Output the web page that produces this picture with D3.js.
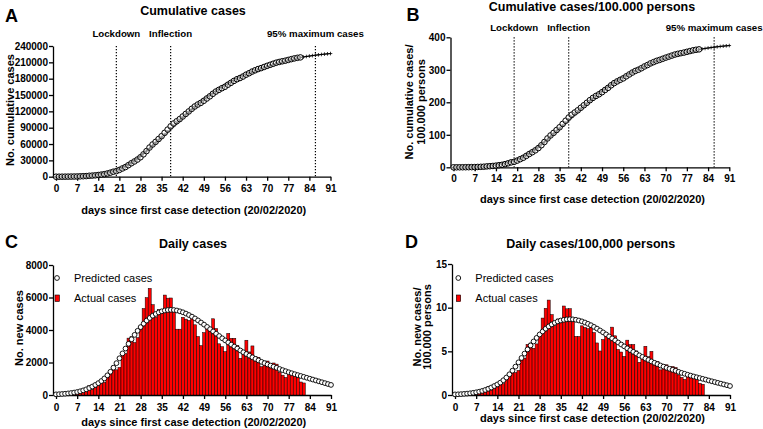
<!DOCTYPE html>
<html><head><meta charset="utf-8">
<script src="https://cdn.jsdelivr.net/npm/d3@7"></script>
<style>
body{margin:0;background:#fff}
svg{display:block}
text{font-family:"Liberation Sans",Arial,Helvetica,sans-serif;fill:#000}
</style>
</head><body>
<svg id="chart" width="763" height="429"></svg>
<script>
// ---------------- DATA (day index = array position) ----------------
const xTickValues = [0,7,14,21,28,35,42,49,56,63,70,77,84,91];
const ticksCum = [0,30000,60000,90000,120000,150000,180000,210000,240000];
const ticksCum100k = [0,100,200,300,400];
const ticksDaily = [0,2000,4000,6000,8000];
const ticksDaily100k = [0,5,10,15];
const eventLabels = ["Lockdown","Inflection","95% maximum cases"];
const eventDays = [20,38,86];
const legendLabels = ["Predicted cases","Actual cases"];

const cumActual = [0,3,20,79,157,229,322,400,650,888,1128,1694,2036,2502,3089,3858,4636,5883,7375,9172,10149,12462,15113,17660,21157,24747,27980,31506,35713,41035,47021,53578,59138,63927,69176,74386,80539,86498,92472,97689,101739,105792,110574,115242,119827,124632,128948,132547,135586,139422,143626,147577,152271,156363,159516,162488,165155,168941,172434,175925,178972,181228,183957,187327,189973,192994,195351,197675,199414,201505,203591,205463,207428,209328,210717,211938,213013,214457,215858,217185,218268,219070];
const cumFit = [40,90,152,230,328,450,600,785,1015,1300,1650,2080,2600,3220,3950,4810,5830,7040,8470,10150,12110,14370,16930,19790,22940,26370,30070,34020,38200,42590,47170,51910,56790,61780,66860,72010,77210,82440,87680,92910,98110,103260,108350,113360,118280,123100,127810,132400,136860,141190,145380,149430,153340,157110,160740,164230,167590,170820,173920,176900,179760,182500,185130,187650,190070,192390,194610,196740,198780,200740,202620,204430,206170,207840,209440,210970,212435,213835,215175,216455,217680,218850,219800,220700,221550,222350,223100,223800,224450,225050,225600,226100];
const cumActual100k = [0,0,0.03,0.13,0.26,0.38,0.53,0.66,1.08,1.47,1.87,2.81,3.37,4.15,5.12,6.39,7.68,9.75,12.2,15.2,16.8,20.6,25.0,29.3,35.1,41.0,46.4,52.2,59.2,68.0,77.9,88.8,98.0,105.9,114.6,123.2,133.4,143.3,153.2,161.8,168.6,175.3,183.2,190.9,198.5,206.5,213.6,219.6,224.6,231.0,237.9,244.5,252.3,259.0,264.3,269.2,273.6,279.9,285.7,291.5,296.5,300.2,304.8,310.3,314.7,319.7,323.6,327.5,330.4,333.8,337.3,340.4,343.6,346.8,349.1,351.1,352.9,355.3,357.6,359.8,361.6,362.9];
const cumFit100k = [0.07,0.15,0.25,0.38,0.54,0.75,0.99,1.30,1.68,2.15,2.73,3.45,4.31,5.33,6.54,7.97,9.66,11.7,14.0,16.8,20.1,23.8,28.0,32.8,38.0,43.7,49.8,56.4,63.3,70.6,78.1,86.0,94.1,102.4,110.8,119.3,127.9,136.6,145.3,153.9,162.5,171.1,179.5,187.8,196.0,203.9,211.7,219.4,226.7,233.9,240.9,247.6,254.0,260.3,266.3,272.1,277.7,283.0,288.1,293.1,297.8,302.4,306.7,310.9,314.9,318.7,322.4,325.9,329.3,332.6,335.7,338.7,341.6,344.3,347.0,349.5,352.0,354.3,356.5,358.6,360.6,362.6,364.2,365.6,367.1,368.4,369.6,370.8,371.9,372.8,373.8,374.6];
const dailyActual = [0,0,20,60,80,70,90,80,250,240,240,570,340,470,590,770,780,1250,1490,1800,1550,1700,2600,2550,3500,3590,3230,3530,4210,5320,5990,6560,5560,4790,5250,5210,6150,5960,5970,5220,4050,4050,4780,4670,4590,4800,4320,3600,3040,3840,4200,3950,4690,4090,3150,2970,2670,3790,3490,3490,3050,2260,2730,3370,2650,3020,2360,2320,1740,2090,2090,1870,1970,1900,1390,1220,1080,1440,1400,1330,1080,800,740];
const dailyPred = [40,50,62,78,98,122,150,185,230,285,350,430,520,620,730,860,1020,1210,1430,1680,1960,2260,2560,2860,3150,3430,3700,3950,4180,4390,4580,4740,4880,4990,5080,5150,5200,5230,5240,5230,5200,5150,5090,5010,4920,4820,4710,4590,4460,4330,4190,4050,3910,3770,3630,3490,3360,3230,3100,2980,2860,2740,2630,2520,2420,2320,2220,2130,2040,1960,1880,1810,1740,1670,1600,1530,1465,1400,1340,1280,1225,1170,1115,1060,1005,950,895,840,785,730,675,620];
const dailyActual100k = [0,0,0.03,0.10,0.13,0.12,0.15,0.13,0.41,0.40,0.40,0.94,0.56,0.78,0.98,1.28,1.29,2.07,2.47,2.98,2.57,2.82,4.31,4.22,5.80,5.95,5.35,5.85,6.97,8.81,9.92,10.87,9.21,7.94,8.70,8.63,10.19,9.87,9.89,8.65,6.71,6.71,7.92,7.74,7.60,7.95,7.16,5.96,5.04,6.36,6.96,6.54,7.77,6.78,5.22,4.92,4.42,6.28,5.78,5.78,5.05,3.74,4.52,5.58,4.39,5.00,3.91,3.84,2.88,3.46,3.46,3.10,3.26,3.15,2.30,2.02,1.79,2.39,2.32,2.20,1.79,1.33,1.23];
const dailyPred100k = [0.07,0.08,0.10,0.13,0.16,0.20,0.25,0.31,0.38,0.47,0.58,0.71,0.86,1.03,1.21,1.42,1.69,2.00,2.37,2.78,3.25,3.74,4.24,4.74,5.22,5.68,6.13,6.54,6.93,7.27,7.59,7.85,8.08,8.27,8.42,8.53,8.61,8.66,8.68,8.66,8.61,8.53,8.43,8.30,8.15,7.99,7.80,7.60,7.39,7.17,6.94,6.71,6.48,6.25,6.01,5.78,5.57,5.35,5.14,4.94,4.74,4.54,4.36,4.17,4.01,3.84,3.68,3.53,3.38,3.25,3.11,3.00,2.88,2.77,2.65,2.53,2.43,2.32,2.22,2.12,2.03,1.94,1.85,1.76,1.66,1.57,1.48,1.39,1.30,1.21,1.12,1.03];

// ---------------- DRAWING ----------------
const svg = d3.select("#chart");
const XTITLE = "days since first case detection (20/02/2020)";

function txt(x, y, s, size, opts) {
  opts = opts || {};
  const t = svg.append("text").attr("x", x).attr("y", y)
    .attr("font-size", size)
    .attr("font-weight", opts.weight || "bold")
    .attr("text-anchor", opts.anchor || "middle")
    .text(s);
  if (opts.rotate) t.attr("transform", `rotate(-90,${x},${y})`);
  return t;
}

function frame(p) {
  const x = d3.scaleLinear().domain([-1, 91]).range(p.xr);
  const y = d3.scaleLinear().domain([0, p.ymax]).range(p.yr);
  const g = svg.append("g");
  const xa = g.append("g").attr("transform", `translate(0,${p.yr[0]})`)
    .call(d3.axisBottom(x).tickValues(xTickValues).tickSize(4).tickSizeOuter(0).tickPadding(p.xpad));
  const ya = g.append("g").attr("transform", `translate(${p.xr[0]},0)`)
    .call(d3.axisLeft(y).tickValues(p.yticks).tickSize(4).tickSizeOuter(0).tickPadding(1).tickFormat(d3.format("d")));
  [xa, ya].forEach(a => {
    a.select(".domain").attr("stroke", "#000").attr("stroke-width", 1.3);
    a.selectAll(".tick line").attr("stroke", "#000").attr("stroke-width", 1.3);
    a.selectAll(".tick text").attr("font-size", 10).attr("font-weight", "bold").attr("fill", "#000")
      .attr("font-family", '"Liberation Sans",Arial,sans-serif');
  });
  return {x, y, g};
}

function cumulativePanel(p, actual, fit) {
  const {x, y, g} = frame(p);
  eventDays.forEach((d, i) => {
    g.append("line").attr("x1", x(d)).attr("x2", x(d)).attr("y1", p.yr[1]).attr("y2", p.yr[0])
      .attr("stroke", "#000").attr("stroke-width", 1.2).attr("stroke-dasharray", "1.2,1.8");
    txt(x(d), p.annY, eventLabels[i], 9.7);
  });
  const line = d3.line().x((d, i) => x(i)).y(d => y(d));
  g.append("path").datum(fit).attr("d", line).attr("fill", "none").attr("stroke", "#000").attr("stroke-width", 1);
  g.selectAll(".plus").data(fit).enter().append("path")
    .attr("d", (d, i) => `M${x(i)-1.8},${y(d)}h3.6M${x(i)},${y(d)-1.8}v3.6`)
    .attr("stroke", "#000").attr("stroke-width", 0.8);
  g.selectAll(".pt").data(actual).enter().append("circle")
    .attr("cx", (d, i) => x(i)).attr("cy", d => y(d)).attr("r", 2.8)
    .attr("fill", "#fff").attr("fill-opacity", 0.5).attr("stroke", "#000").attr("stroke-width", 1);
}

function dailyPanel(p, actual, pred) {
  const {x, y, g} = frame(p);
  const w = x(1) - x(0);
  actual.forEach((d, i) => {
    if (d <= 0) return;
    g.append("rect").attr("x", x(i) - w / 2).attr("y", y(d)).attr("width", w).attr("height", y(0) - y(d))
      .attr("fill", "#f00").attr("stroke", "#000").attr("stroke-width", 0.5);
  });
  g.selectAll(".pred").data(pred).enter().append("circle")
    .attr("cx", (d, i) => x(i)).attr("cy", d => y(d)).attr("r", 2.4)
    .attr("fill", "#fff").attr("stroke", "#000").attr("stroke-width", 0.9);
  const lx = p.legX;
  g.append("circle").attr("cx", lx).attr("cy", 278).attr("r", 2.4).attr("fill", "#fff").attr("stroke", "#000").attr("stroke-width", 0.9);
  txt(lx + 17, 282, legendLabels[0], 11, {weight: "normal", anchor: "start"});
  g.append("rect").attr("x", lx - 2).attr("y", 295).attr("width", 4.4).attr("height", 6.5)
    .attr("fill", "#f00").attr("stroke", "#000").attr("stroke-width", 0.6);
  txt(lx + 17, 302, legendLabels[1], 11, {weight: "normal", anchor: "start"});
}

// Panel A
cumulativePanel({xr: [53, 330.5], yr: [176.7, 46], ymax: 240000, yticks: ticksCum, xpad: 4.1, annY: 37}, cumActual, cumFit);
txt(5, 22, "A", 18, {anchor: "start"});
txt(193, 15, "Cumulative cases", 12.5);
txt(14, 110, "No. cumulative cases", 11, {rotate: true});
txt(193.7, 214, XTITLE, 11);

// Panel B
cumulativePanel({xr: [450.5, 729.3], yr: [167.3, 37.3], ymax: 400, yticks: ticksCum100k, xpad: 3.5, annY: 31}, cumActual100k, cumFit100k);
txt(406.5, 21, "B", 18, {anchor: "start"});
txt(592, 10.5, "Cumulative cases/100.000 persons", 12.5);
txt(413, 102, "No. cumulative cases/", 11, {rotate: true});
txt(424.5, 102, "100.000 persons", 11, {rotate: true});
txt(592.5, 203, XTITLE, 11);

// Panel C
dailyPanel({xr: [53, 331], yr: [395, 265], ymax: 8000, yticks: ticksDaily, xpad: 5.2, legX: 57}, dailyActual, dailyPred);
txt(5, 248, "C", 18, {anchor: "start"});
txt(193, 248, "Daily cases", 12.5);
txt(23, 328, "No. new cases", 11, {rotate: true});
txt(193.7, 426, XTITLE, 11);

// Panel D
dailyPanel({xr: [452, 730], yr: [395, 264], ymax: 15, yticks: ticksDaily100k, xpad: 5.2, legX: 458.3}, dailyActual100k, dailyPred100k);
txt(405, 248, "D", 18, {anchor: "start"});
txt(590.7, 248, "Daily cases/100,000 persons", 12.5);
txt(420.5, 327, "No. new cases/", 11, {rotate: true});
txt(431, 327, "100.000 persons", 11, {rotate: true});
txt(592.5, 422, XTITLE, 11);
</script>
</body></html>
